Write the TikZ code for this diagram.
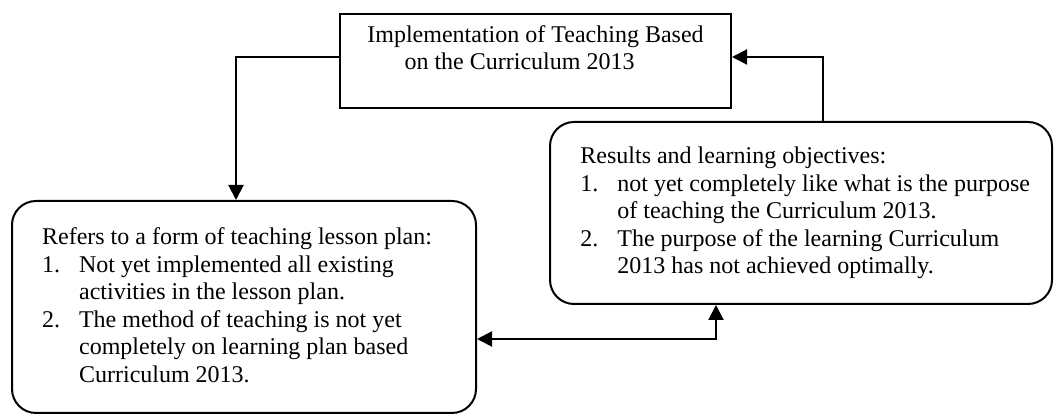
\documentclass[tikz,border=0pt]{standalone}
\usepackage{fontspec}
\setmainfont{Liberation Serif}
\usetikzlibrary{arrows.meta, positioning}

\newcommand{\numitem}[1]{\makebox[18.5pt][l]{#1}}
\newcommand{\numgap}{\hspace*{18.5pt}}

\begin{document}
\begin{tikzpicture}[x=0.5pt, y=-0.5pt,
        box/.style={draw, line width=1pt},
        roundbox/.style={box, rounded corners=12pt},
        txt/.style={inner sep=0pt, align=left, font=\fontsize{12}{13.75}\selectfont},
        arr/.style={->, >={Triangle[length=7.5pt, width=7.5pt]}, line width=1pt}]
        \useasboundingbox (0,0) rectangle (1054,415);
        % Implementation box
        \node[box, minimum width=195.5pt, minimum height=47pt] (impl) at (535.5,61) {};
        \node[txt, align=center, anchor=north] (impltext) at ([yshift=-6pt]impl.north)
            {Implementation of Teaching Based\\on the Curriculum 2013\makebox[16pt]{}};
        % Lesson plan box
        \node[roundbox, minimum width=232pt, minimum height=106pt] (refer) at (244,307) {};
        \node[txt, anchor=west] (refertext) at ([xshift=15.35pt, yshift=1pt]refer.west)
            {Refers to a form of teaching lesson plan:\\
             \numitem{1.}Not yet implemented all existing\\
             \numgap activities in the lesson plan.\\
             \numitem{2.}The method of teaching is not yet\\
             \numgap completely on learning plan based\\
             \numgap Curriculum 2013.};
        % Results box
        \node[roundbox, minimum width=251pt, minimum height=91pt] (result) at (801,213) {};
        \node[txt, anchor=west] (resulttext) at ([xshift=15.5pt]result.west)
            {Results and learning objectives:\\
             \numitem{1.}not yet completely like what is the purpose\\
             \numgap of teaching the Curriculum 2013.\\
             \numitem{2.}The purpose of the learning Curriculum\\
             \numgap 2013 has not achieved optimally.};
        % Arrows between the boxes
        \draw[arr] ([yshift=2pt]impl.west) -| ([xshift=-4pt]refer.north);
        \draw[arr] ([xshift=11pt]result.north) |- ([yshift=2pt]impl.east);
        \draw[arr, <->] ([yshift=-16pt]refer.east) -| ([xshift=-42.5pt]result.south);
\end{tikzpicture}
\end{document}
